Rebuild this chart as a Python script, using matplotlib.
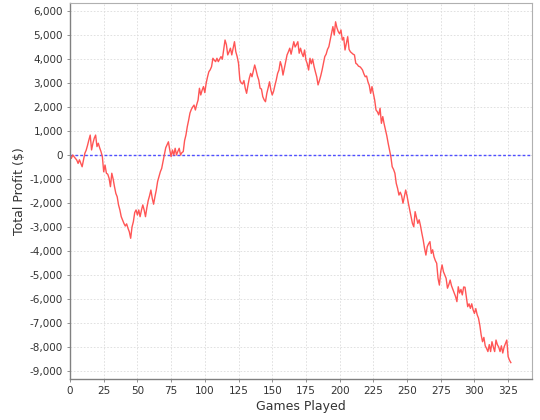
import matplotlib
matplotlib.use("Agg")
import numpy as np
from matplotlib import pyplot as plt
from matplotlib.ticker import FuncFormatter, MultipleLocator

# total profit after each game (game 0 .. 327)
profit = [
    0, -140, 0, -70, -140, -210, -350, -200, -350, -490,
    -210, 70, 200, 400, 625, 830, 210, 490, 700, 830,
    350, 490, 300, 140, -70, -700, -420, -760, -800, -970,
    -1320, -760, -1000, -1320, -1600, -1740, -2080, -2290, -2570, -2710,
    -2850, -2960, -2870, -3050, -3200, -3470, -3000, -2780, -2400, -2290,
    -2500, -2290, -2570, -2300, -2080, -2290, -2570, -2200, -1900, -1700,
    -1460, -1800, -2050, -1740, -1460, -1100, -900, -700, -560, -280,
    0, 300, 420, 550, 210, -70, 210, 0, 280, 0,
    150, 280, 0, 100, 140, 600, 830, 1180, 1450, 1750,
    1900, 2000, 2080, 1875, 2100, 2290, 2780, 2500, 2700, 2850,
    2600, 2990, 3250, 3470, 3550, 3680, 4030, 3950, 3890, 4030,
    3890, 4000, 4100, 3990, 4400, 4790, 4600, 4170, 4300, 4450,
    4170, 4450, 4720, 4300, 4100, 3820, 3125, 3000, 2960, 3100,
    2780, 2570, 2900, 3200, 3400, 3260, 3500, 3750, 3540, 3300,
    3125, 2780, 2750, 2430, 2300, 2220, 2570, 2800, 3050, 2710,
    2500, 2650, 2900, 3125, 3400, 3540, 3890, 3700, 3330, 3600,
    3890, 4170, 4300, 4450, 4200, 4450, 4720, 4500, 4600, 4720,
    4240, 4450, 4240, 4100, 4375, 3960, 3800, 3540, 4030, 3800,
    4000, 3700, 3470, 3260, 2920, 3100, 3300, 3540, 3820, 4100,
    4200, 4400, 4510, 4790, 5070, 5350, 5000, 5550, 5300, 5140,
    5050, 5210, 4790, 4900, 4375, 4650, 4930, 4400, 4300, 4250,
    4200, 4170, 3820, 3780, 3700, 3680, 3620, 3540, 3380, 3260,
    3290, 3050, 2900, 2570, 2850, 2570, 2290, 1875, 1800, 1670,
    1950, 1320, 1600, 1300, 1040, 800, 490, 210, -70, -490,
    -600, -760, -1180, -1390, -1670, -1550, -1700, -2010, -1740, -1460,
    -1700, -2010, -2290, -2550, -2850, -2990, -2360, -2600, -2850, -2700,
    -2950, -3260, -3540, -3890, -4170, -3820, -3700, -3610, -4100, -3950,
    -4240, -4400, -4510, -5140, -5420, -4860, -4580, -4860, -5000, -5140,
    -5550, -5400, -5210, -5450, -5600, -5760, -5900, -6110, -5490, -5750,
    -5600, -5830, -5500, -5510, -5900, -6320, -6200, -6390, -6200, -6450,
    -6600, -6400, -6650, -6800, -7100, -7500, -7780, -7600, -7950, -8060,
    -8190, -7900, -8190, -7780, -8000, -8190, -7710, -7900, -8000, -8190,
    -7950, -8250, -8000, -7850, -7710, -8400, -8550, -8650,
]
games = np.arange(len(profit))

x_label = "Games Played"
y_label = "Total Profit ($)"

fig = plt.figure(figsize=(5.4, 4.2), dpi=100)
ax = fig.add_axes([70 / 540, 1 - 379 / 420, 462 / 540, 376 / 420])

ax.set_xlim(0, 342.7)
ax.set_ylim(-9333, 6333)
ax.xaxis.set_major_locator(MultipleLocator(25))
ax.yaxis.set_major_locator(MultipleLocator(1000))
ax.yaxis.set_major_formatter(FuncFormatter(lambda v, p: f"{v:,.0f}"))

ax.grid(True, color="#dcdcdc", linestyle=(0, (2, 2)), linewidth=0.6)
ax.set_axisbelow(True)

# zero reference line
ax.axhline(0, color="#4f4fff", linestyle=(0, (2, 1.5)), linewidth=1.0)
ax.plot(games, profit, color="#ff5555", linewidth=1.0)

for side in ("top", "right"):
    ax.spines[side].set_color("#b0b0b0")
    ax.spines[side].set_linewidth(0.8)
for side in ("left", "bottom"):
    ax.spines[side].set_color("#808080")
    ax.spines[side].set_linewidth(1.0)

ax.tick_params(axis="both", direction="out", length=2, width=0.6,
               color="#808080", labelsize=7.5, labelcolor="#333333", pad=3)

ax.set_xlabel(x_label, fontsize=9, color="#333333", labelpad=3)
ax.set_ylabel(y_label, fontsize=9, color="#333333", labelpad=3)

fig.savefig("out.png", dpi=100)
